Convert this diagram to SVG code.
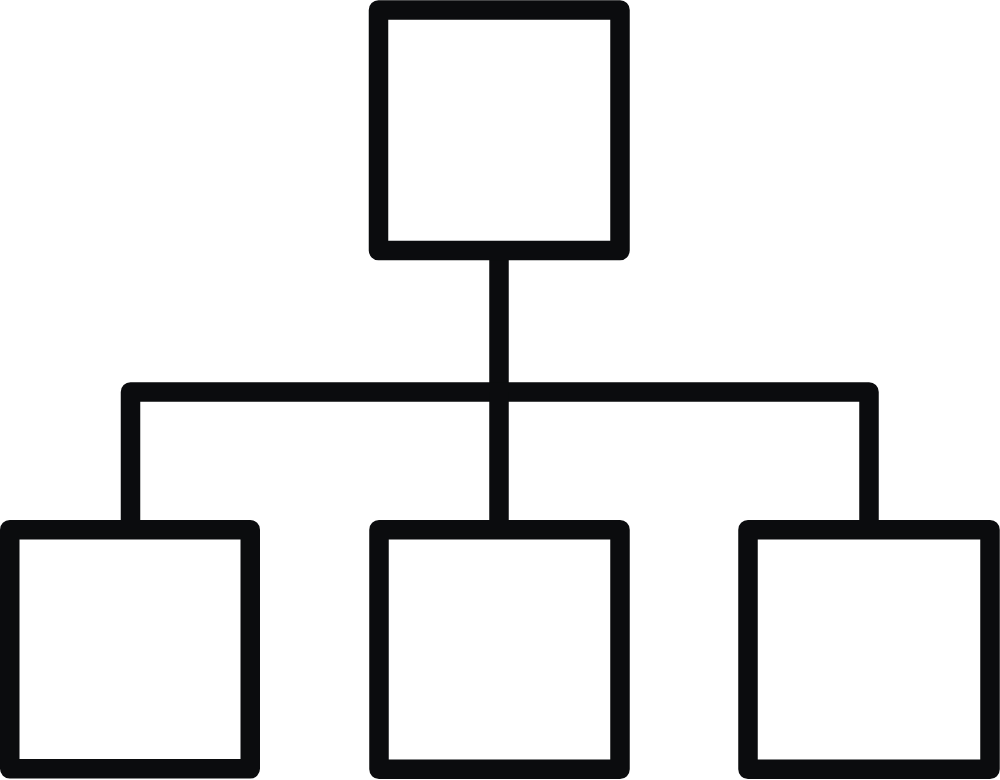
<svg xmlns="http://www.w3.org/2000/svg" width="1000" height="780" viewBox="0 0 1000 780">
  <style>
    .box { fill: #ffffff; stroke: #0b0c0e; stroke-width: 19.5; stroke-linejoin: round; }
    .conn { fill: none; stroke: #0b0c0e; stroke-width: 19.5; stroke-linejoin: round; stroke-linecap: butt; }
  </style>
  <rect width="1000" height="780" fill="#ffffff"/>
  <g id="connectors">
    <path class="conn" d="M499 250 V392"/>
    <path class="conn" d="M130.5 521 V392 H869 V521"/>
    <path class="conn" d="M499 392 V521"/>
  </g>
  <g id="node-top">
    <rect class="box" x="378.5" y="10" width="241.5" height="240.5"/>
  </g>
  <g id="node-left">
    <rect class="box" x="9.75" y="529.75" width="240.5" height="239"/>
  </g>
  <g id="node-middle">
    <rect class="box" x="379" y="529.75" width="241" height="239.5"/>
  </g>
  <g id="node-right">
    <rect class="box" x="748" y="529.75" width="242" height="239.5"/>
  </g>
</svg>
